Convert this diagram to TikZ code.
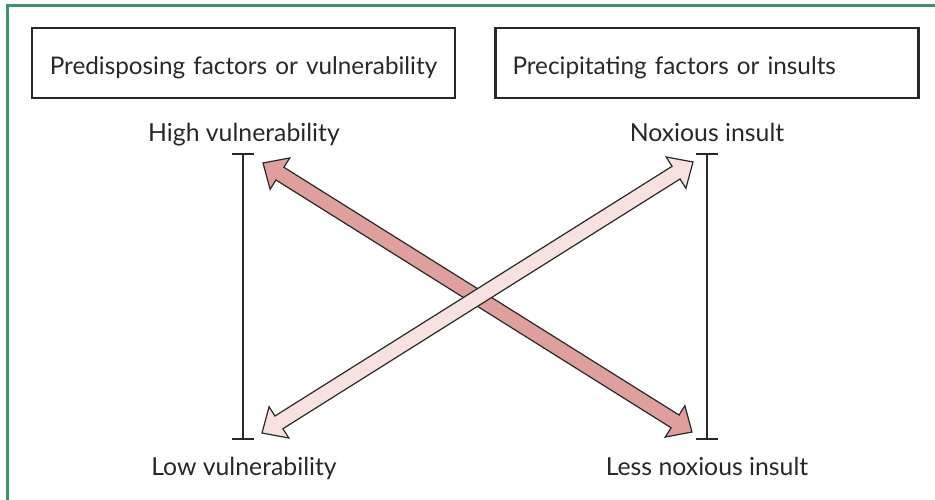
\documentclass[tikz,border=0pt]{standalone}
\usepackage{fontspec}
\setmainfont{Lato}
\usetikzlibrary{positioning, calc, arrows.meta}

\definecolor{framegreen}{RGB}{62,148,104}
\definecolor{strongpink}{RGB}{223,160,157}
\definecolor{palepink}{RGB}{248,226,223}
\definecolor{inkgray}{RGB}{40,40,40}

\tikzset{
  factorbox/.style={draw=inkgray, line width=2.8pt, minimum width=423pt, minimum height=70pt,
    text width=389pt, inner xsep=17pt, text height=26pt, text depth=2pt,
    font=\fontsize{24.3}{28}\selectfont},
  scalelabel/.style={font=\fontsize{24.8}{29}\selectfont, inner sep=0pt, anchor=base},
  scalebar/.style={draw=inkgray, line width=2.4pt, {Bar[width=22pt,line width=2.4pt]}-{Bar[width=22pt,line width=2.4pt]}},
  crossarrow/.style={draw=inkgray, line width=1.2pt, line join=miter}
}

% double headed broad arrow between two named points
\newcommand{\broadarrow}[3]{%
  \draw[crossarrow, fill=#1] (#2)
    -- ($(#2)!20pt!(#3)!18.5pt!90:(#3)$)
    -- ($(#2)!20pt!(#3)!7.5pt!90:(#3)$)
    -- ($(#3)!20pt!(#2)!7.5pt!-90:(#2)$)
    -- ($(#3)!20pt!(#2)!18.5pt!-90:(#2)$)
    -- (#3)
    -- ($(#3)!20pt!(#2)!18.5pt!90:(#2)$)
    -- ($(#3)!20pt!(#2)!7.5pt!90:(#2)$)
    -- ($(#2)!20pt!(#3)!7.5pt!-90:(#3)$)
    -- ($(#2)!20pt!(#3)!18.5pt!-90:(#3)$)
    -- cycle;}

\begin{document}
\begin{tikzpicture}[x=1pt, y=-1pt, text=inkgray]
    \useasboundingbox (0,0) rectangle (935,500);
    % frame
    \draw[framegreen, line width=2.6pt] (7.5,500) -- (7.5,5.5) -- (935,5.5);
    % headings
    \node[factorbox, align=center] (predisp) at (243.5,63) {Predisposing factors or vulnerability};
    \node[factorbox, align=left] (precip) at (707,63) {Precipitating factors or insults};
    % scale labels
    \node[scalelabel] (highv) at (244,142) {High vulnerability};
    \node[scalelabel] (lowv) at (244,475) {Low vulnerability};
    \node[scalelabel] (noxious) at (707,142) {Noxious insult};
    \node[scalelabel] (lessnox) at (707,475) {Less noxious insult};
    % scales
    \coordinate (vtop) at (243,153);
    \coordinate (vbot) at (243,440);
    \coordinate (itop) at (707,153);
    \coordinate (ibot) at (707,440);
    \draw[scalebar] (vtop) -- (vbot);
    \draw[scalebar] (itop) -- (ibot);
    % crossing arrows
    \coordinate (darkA) at (263,163);
    \coordinate (darkB) at (692,432);
    \coordinate (paleA) at (262,433);
    \coordinate (paleB) at (693,162);
    \broadarrow{strongpink}{darkA}{darkB}
    \broadarrow{palepink}{paleA}{paleB}
\end{tikzpicture}
\end{document}
